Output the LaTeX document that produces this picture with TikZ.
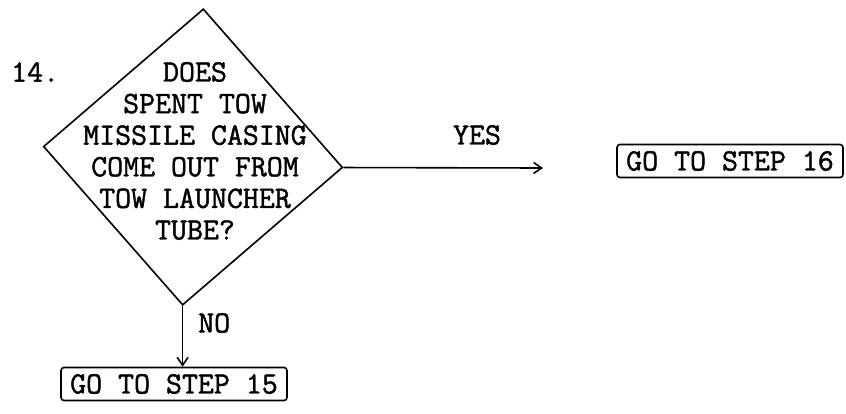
\documentclass[tikz,border=0pt]{standalone}
\usepackage{fontspec}
\newfontfamily\twfont{Latin Modern Mono}[FakeBold=1.4]
\usetikzlibrary{arrows.meta, positioning, shapes.geometric}

\begin{document}
\begin{tikzpicture}[
        x=1pt, y=-1pt,
        >={Straight Barb[length=8pt, width=11pt]},
        every node/.style={font=\twfont\fontsize{31}{31.6}\selectfont, inner sep=0pt},
        decision/.style={diamond, draw, line width=1.6pt, minimum width=300pt, minimum height=297pt, rotate=-4},
        gobox/.style={draw, rounded corners=3pt, line width=1.6pt, minimum width=226pt, minimum height=33pt},
        edge/.style={->, line width=1.6pt}
    ]
        \useasboundingbox (0,0) rectangle (846,413);

        % 判断框
        \node[decision] (q14) at (193,157) {};
        \node[align=center] (q14txt) at (195,151)
            {DOES\\SPENT TOW\\MISSILE CASING\\COME OUT FROM\\TOW LAUNCHER\\TUBE?};
        \node[anchor=west] (n14) at (11,72) {14.};

        % 跳转框
        \node[gobox] (s16) at (730,161) {GO TO STEP 16};
        \node[gobox] (s15) at (174,384) {GO TO STEP 15};
        \coordinate (yesend) at (543,168);

        % 箭头与标注
        \draw[edge] (q14.east) -- (yesend);
        \node (yes) at (477,135) {YES};
        \draw[edge] (q14.south) -- (q14.south |- s15.north);
        \node[anchor=west] (no) at (198,323) {NO};
    \end{tikzpicture}
\end{document}
